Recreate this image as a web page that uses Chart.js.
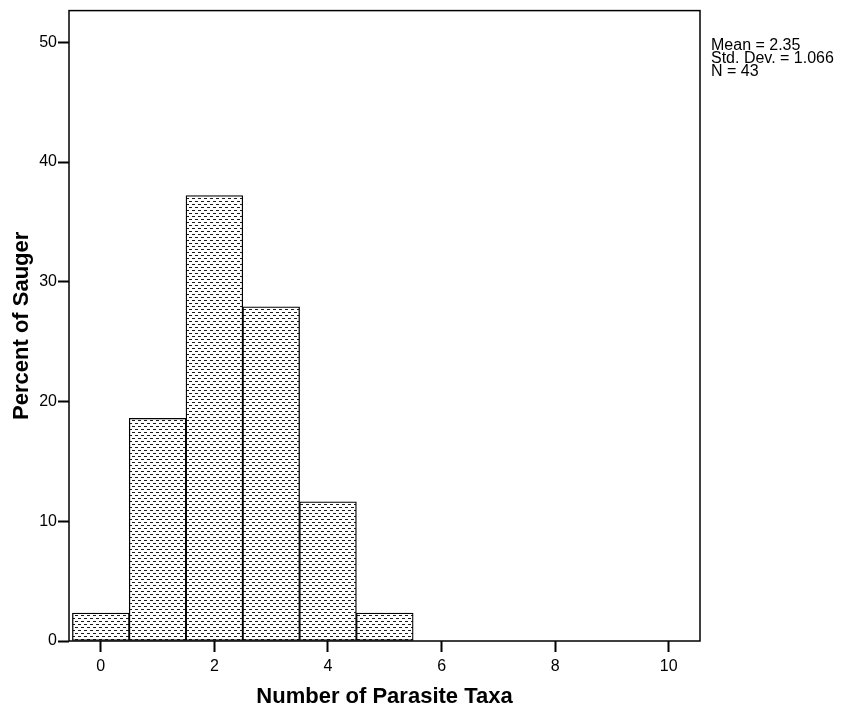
<!DOCTYPE html>
<html>
<head>
<meta charset="utf-8">
<script src="https://cdn.jsdelivr.net/npm/chart.js@4/dist/chart.umd.min.js"></script>
<style>
  html, body { margin: 0; padding: 0; background: #fff; }
  #wrap { position: relative; width: 842px; height: 713px; }
  #stats { position: absolute; left: 711px; top: 38px; font-family: "Liberation Sans", Arial, sans-serif; font-size: 16px; line-height: 13px; color: #000; white-space: pre; }
</style>
</head>
<body>
<div id="wrap">
  <canvas id="c" width="842" height="713"></canvas>
  <div id="stats">Mean = 2.35
Std. Dev. = 1.066
N = 43</div>
</div>
<script>
// Data
const taxaCounts = [0, 1, 2, 3, 4, 5];
const percentSauger = [2.33, 18.60, 37.21, 27.91, 11.63, 2.33];
const xTickValues = [0, 2, 4, 6, 8, 10];
const yTickValues = [0, 10, 20, 30, 40, 50];

function makePattern() {
  const t = document.createElement('canvas');
  t.width = 6; t.height = 6;
  const g = t.getContext('2d');
  g.fillStyle = '#ffffff';
  g.fillRect(0, 0, 6, 6);
  g.fillStyle = '#1a1a1a';
  g.fillRect(0, 0, 3, 1);
  g.fillRect(3, 3, 3, 1);
  return g.createPattern(t, 'repeat');
}

const frame = {
  id: 'frame',
  afterDraw(chart) {
    const a = chart.chartArea, ctx = chart.ctx;
    ctx.save();
    ctx.strokeStyle = '#000';
    ctx.lineWidth = 1.5;
    ctx.strokeRect(a.left, a.top, a.right - a.left, a.bottom - a.top);
    ctx.restore();
  }
};

const font = "'Liberation Sans', Arial, sans-serif";

new Chart(document.getElementById('c'), {
  type: 'bar',
  data: {
    datasets: [{
      data: taxaCounts.map((x, i) => ({ x: x, y: percentSauger[i] })),
      backgroundColor: makePattern(),
      borderColor: '#000',
      borderWidth: 1.3,
      borderSkipped: false,
      barPercentage: 1.0,
      categoryPercentage: 1.0
    }]
  },
  plugins: [frame],
  options: {
    responsive: false,
    animation: false,
    layout: { padding: { top: 7, right: 142, left: 0, bottom: 0 } },
    plugins: { legend: { display: false }, tooltip: { enabled: false } },
    scales: {
      x: {
        type: 'linear',
        offset: false,
        min: -0.56,
        max: 10.55,
        afterBuildTicks: (s) => { s.ticks = xTickValues.map(v => ({ value: v })); },
        afterFit: (s) => { s.height = 72; },
        grid: { offset: false, drawOnChartArea: false, drawTicks: true, tickLength: 11, tickColor: '#000', tickWidth: 2 },
        border: { display: false },
        ticks: { color: '#000', font: { family: font, size: 16 }, padding: 5, maxRotation: 0 },
        title: { display: true, text: 'Number of Parasite Taxa', color: '#000', font: { family: font, size: 22, weight: 'bold' }, padding: { top: 0, bottom: 3 } }
      },
      y: {
        type: 'linear',
        min: 0,
        max: 52.65,
        afterBuildTicks: (s) => { s.ticks = yTickValues.map(v => ({ value: v })); },
        afterFit: (s) => { s.width = 69; },
        grid: { drawOnChartArea: false, drawTicks: true, tickLength: 11, tickColor: '#000', tickWidth: 2 },
        border: { display: false },
        ticks: { color: '#000', font: { family: font, size: 16 }, padding: 1 },
        title: { display: true, text: 'Percent of Sauger', color: '#000', font: { family: font, size: 22, weight: 'bold' }, padding: { top: 9, bottom: 0 } }
      }
    }
  }
});
</script>
</body>
</html>
